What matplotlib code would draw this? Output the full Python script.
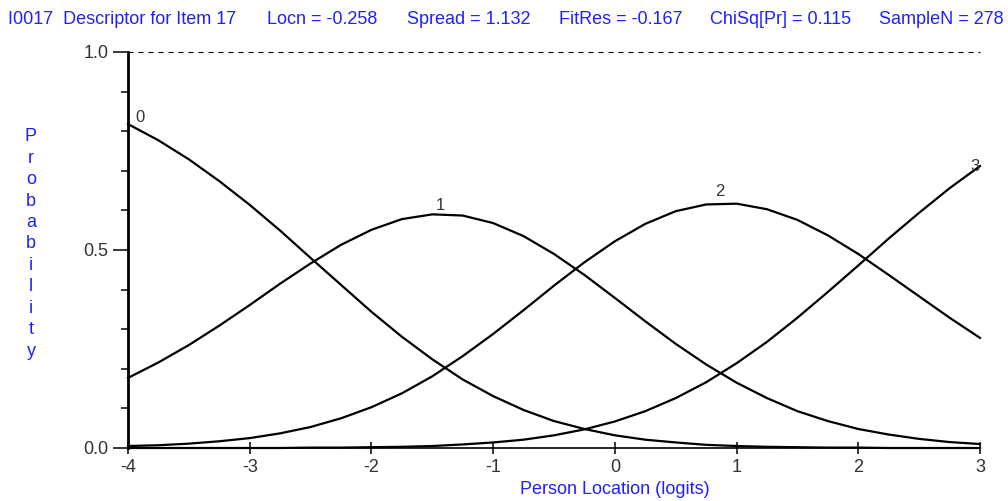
import matplotlib
matplotlib.use("Agg")
import matplotlib.pyplot as plt
from matplotlib.ticker import MultipleLocator

# Dados (curvas de probabilidade por categoria)
localizacao = [-4.0, -3.75, -3.5, -3.25, -3.0, -2.75, -2.5, -2.25, -2.0, -1.75,
               -1.5, -1.25, -1.0, -0.75, -0.5, -0.25, 0.0, 0.25, 0.5, 0.75,
               1.0, 1.25, 1.5, 1.75, 2.0, 2.25, 2.5, 2.75, 3.0]

cat0 = [0.818, 0.777, 0.729, 0.674, 0.614, 0.549, 0.480, 0.412, 0.344, 0.281,
        0.224, 0.173, 0.131, 0.096, 0.068, 0.048, 0.032, 0.021, 0.014, 0.008,
        0.005, 0.003, 0.002, 0.001, 0.001, 0.000, 0.000, 0.000, 0.000]
cat1 = [0.177, 0.216, 0.260, 0.309, 0.361, 0.415, 0.466, 0.513, 0.551, 0.578,
        0.590, 0.587, 0.568, 0.535, 0.490, 0.437, 0.379, 0.320, 0.263, 0.211,
        0.165, 0.126, 0.093, 0.068, 0.048, 0.034, 0.023, 0.015, 0.010]
cat2 = [0.005, 0.007, 0.011, 0.017, 0.025, 0.037, 0.053, 0.075, 0.103, 0.138,
        0.181, 0.232, 0.288, 0.348, 0.410, 0.469, 0.522, 0.566, 0.598, 0.615,
        0.617, 0.603, 0.576, 0.537, 0.490, 0.437, 0.383, 0.329, 0.278]
cat3 = [0.000, 0.000, 0.000, 0.000, 0.000, 0.000, 0.001, 0.001, 0.002, 0.003,
        0.005, 0.009, 0.014, 0.021, 0.032, 0.047, 0.067, 0.093, 0.126, 0.166,
        0.214, 0.268, 0.329, 0.394, 0.461, 0.529, 0.594, 0.656, 0.712]

categorias = ["0", "1", "2", "3"]
# posicao dos rotulos das categorias (x, y)
rotulos_x = [-3.9, -1.436, 0.864, 2.962]
rotulos_y = [0.835, 0.612, 0.647, 0.71]

titulo = ["I0017  Descriptor for Item 17", "Locn = -0.258", "Spread = 1.132",
          "FitRes = -0.167", "ChiSq[Pr] = 0.115", "SampleN = 278"]
titulo_px = [8, 267, 407, 559, 710, 879]

azul = "#2020ff"
cinza = "#333333"
fonte = "Liberation Sans"
tam = 13

fig = plt.figure(figsize=(10.08, 5.01), dpi=100)
ax = fig.add_axes([128 / 1008, 53 / 501, 852 / 1008, 396 / 501])

for serie in [cat0, cat1, cat2, cat3]:
    ax.plot(localizacao, serie, color="black", lw=1.6, clip_on=False, zorder=3)

for rot, rx, ry in zip(categorias, rotulos_x, rotulos_y):
    ax.text(rx, ry, rot, fontsize=12, color=cinza, family=fonte,
            ha="center", va="center", zorder=4)

# linha tracejada no topo
ax.axhline(1.0, color="black", lw=0.8, ls=(0, (4.5, 4.5)), clip_on=False)

ax.set_xlim(-4, 3)
ax.set_ylim(0, 1)
ax.spines["top"].set_visible(False)
ax.spines["right"].set_visible(False)
ax.spines["left"].set_linewidth(2.0)
ax.spines["bottom"].set_linewidth(1.2)

ax.set_xticks(range(-4, 4))
ax.set_xticklabels([str(v) for v in range(-4, 4)])
ax.set_yticks([0.0, 0.5, 1.0])
ax.set_yticklabels(["0.0", "0.5", "1.0"])
ax.yaxis.set_minor_locator(MultipleLocator(0.1))
ax.tick_params(axis="y", which="major", length=11, width=1.1, direction="out",
               labelsize=tam, labelcolor=cinza, pad=3)
ax.tick_params(axis="y", which="minor", length=5, width=1.1, direction="out")
ax.tick_params(axis="x", which="major", length=8, width=1.1, direction="inout",
               labelsize=tam, labelcolor=cinza, pad=4)
for lab in ax.get_xticklabels() + ax.get_yticklabels():
    lab.set_family(fonte)

# titulo em partes
for txt, px in zip(titulo, titulo_px):
    fig.text(px / 1008, 1 - 20 / 501, txt, color=azul, fontsize=tam,
             family=fonte, ha="left", va="center")

# rotulo do eixo y com letras empilhadas
fig.text(31 / 1008, 1 - 244 / 501, "\n".join("Probability"), color=azul,
         fontsize=tam, family=fonte, ha="center", va="center",
         linespacing=1.34)

ax.text(0, -0.105, "Person Location (logits)", color=azul, fontsize=tam,
        family=fonte, ha="center", va="center", transform=ax.get_xaxis_transform())

fig.savefig("out.png", dpi=100)
